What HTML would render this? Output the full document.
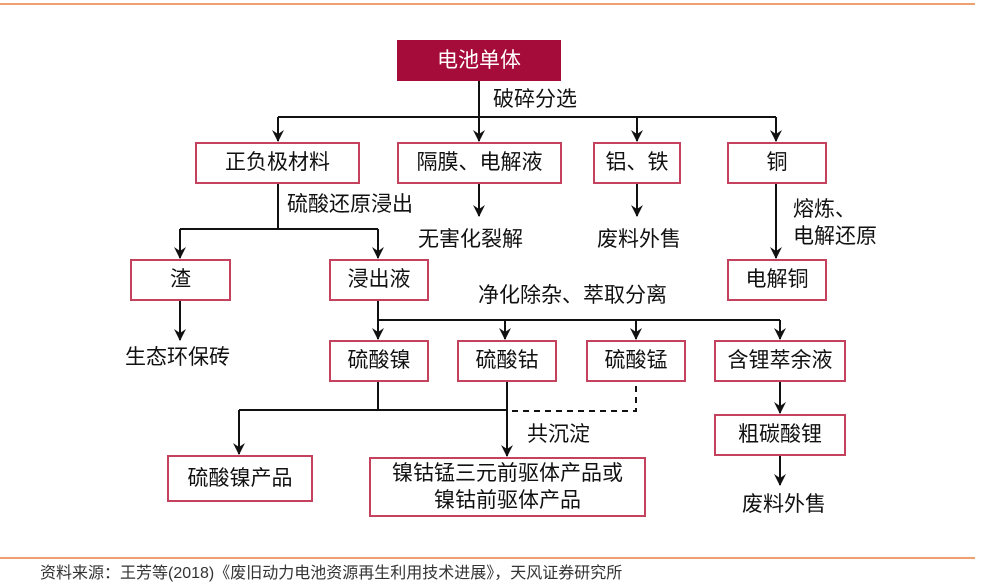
<!DOCTYPE html>
<html><head><meta charset="utf-8"><style>
body{margin:0;width:1000px;height:587px;background:#fff;position:relative;overflow:hidden;font-family:"Liberation Sans","Noto Sans CJK SC",sans-serif;color:#111}
.b{position:absolute;box-sizing:border-box;border:2px solid #c4425e;background:#fff;display:flex;align-items:center;justify-content:center;text-align:center;font-size:21px;line-height:26px}
.t{position:absolute;font-size:21px;line-height:24px;white-space:nowrap}
svg{position:absolute;left:0;top:0}
</style></head><body>
<svg width="1000" height="587">
<defs><marker id="a" markerWidth="14" markerHeight="14" refX="12" refY="7" orient="auto" markerUnits="userSpaceOnUse"><path d="M1,1 L13,7 L1,13 L5,7 Z" fill="#111"/></marker></defs>
<line x1="0" y1="4" x2="975" y2="4" stroke="#f0a070" stroke-width="2"/>
<line x1="0" y1="558" x2="975" y2="558" stroke="#f0a070" stroke-width="2"/>
<g stroke="#111" stroke-width="2" fill="none">
<line x1="479" y1="80" x2="479" y2="141" marker-end="url(#a)"/>
<line x1="278" y1="117" x2="776" y2="117"/>
<line x1="278" y1="117" x2="278" y2="141" marker-end="url(#a)"/>
<line x1="637" y1="117" x2="637" y2="141" marker-end="url(#a)"/>
<line x1="776" y1="117" x2="776" y2="141" marker-end="url(#a)"/>
<line x1="278" y1="183" x2="278" y2="229"/>
<line x1="180" y1="229" x2="378" y2="229"/>
<line x1="180" y1="229" x2="180" y2="258" marker-end="url(#a)"/>
<line x1="378" y1="229" x2="378" y2="258" marker-end="url(#a)"/>
<line x1="479" y1="183" x2="479" y2="216" marker-end="url(#a)"/>
<line x1="637" y1="183" x2="637" y2="216" marker-end="url(#a)"/>
<line x1="776" y1="183" x2="776" y2="258" marker-end="url(#a)"/>
<line x1="180" y1="300" x2="180" y2="340" marker-end="url(#a)"/>
<line x1="378" y1="300" x2="378" y2="339" marker-end="url(#a)"/>
<line x1="378" y1="320" x2="780" y2="320"/>
<line x1="505" y1="320" x2="505" y2="339" marker-end="url(#a)"/>
<line x1="636" y1="320" x2="636" y2="339" marker-end="url(#a)"/>
<line x1="780" y1="320" x2="780" y2="339" marker-end="url(#a)"/>
<line x1="378" y1="381" x2="378" y2="410"/>
<line x1="239" y1="410" x2="507" y2="410"/>
<line x1="239" y1="410" x2="239" y2="454" marker-end="url(#a)"/>
<line x1="507" y1="381" x2="507" y2="456" marker-end="url(#a)"/>
<polyline points="512,411 636,411 636,381" stroke-dasharray="6,5"/>
<line x1="780" y1="381" x2="780" y2="413" marker-end="url(#a)"/>
<line x1="780" y1="455" x2="780" y2="485" marker-end="url(#a)"/>
</g>
</svg>
<div class="b" style="left:397px;top:40px;width:164px;height:41px;background:#a60c3a;border-color:#a60c3a;color:#fff">电池单体</div>
<div class="t" style="left:493px;top:88px">破碎分选</div>
<div class="b" style="left:195px;top:142px;width:165px;height:42px">正负极材料</div>
<div class="b" style="left:397px;top:142px;width:165px;height:42px">隔膜、电解液</div>
<div class="b" style="left:593px;top:142px;width:88px;height:42px">铝、铁</div>
<div class="b" style="left:727px;top:142px;width:100px;height:42px">铜</div>
<div class="t" style="left:287px;top:193px">硫酸还原浸出</div>
<div class="t" style="left:418px;top:228px">无害化裂解</div>
<div class="t" style="left:597px;top:228px">废料外售</div>
<div class="t" style="left:793px;top:198px">熔炼、</div>
<div class="t" style="left:793px;top:225px">电解还原</div>
<div class="b" style="left:130px;top:259px;width:101px;height:42px">渣</div>
<div class="b" style="left:329px;top:259px;width:100px;height:42px">浸出液</div>
<div class="b" style="left:727px;top:259px;width:100px;height:42px">电解铜</div>
<div class="t" style="left:478px;top:284px">净化除杂、萃取分离</div>
<div class="t" style="left:125px;top:346px">生态环保砖</div>
<div class="b" style="left:329px;top:340px;width:100px;height:42px">硫酸镍</div>
<div class="b" style="left:457px;top:340px;width:100px;height:42px">硫酸钴</div>
<div class="b" style="left:586px;top:340px;width:100px;height:42px">硫酸锰</div>
<div class="b" style="left:714px;top:340px;width:132px;height:42px">含锂萃余液</div>
<div class="b" style="left:714px;top:414px;width:132px;height:42px">粗碳酸锂</div>
<div class="t" style="left:527px;top:423px">共沉淀</div>
<div class="b" style="left:167px;top:455px;width:146px;height:47px">硫酸镍产品</div>
<div class="b" style="left:369px;top:457px;width:277px;height:60px;line-height:27px">镍钴锰三元前驱体产品或<br>镍钴前驱体产品</div>
<div class="t" style="left:742px;top:493px">废料外售</div>
<div class="t" style="left:40px;top:562px;font-size:16px;color:#333">资料来源：王芳等(2018)《废旧动力电池资源再生利用技术进展》，天风证券研究所</div>
</body></html>
